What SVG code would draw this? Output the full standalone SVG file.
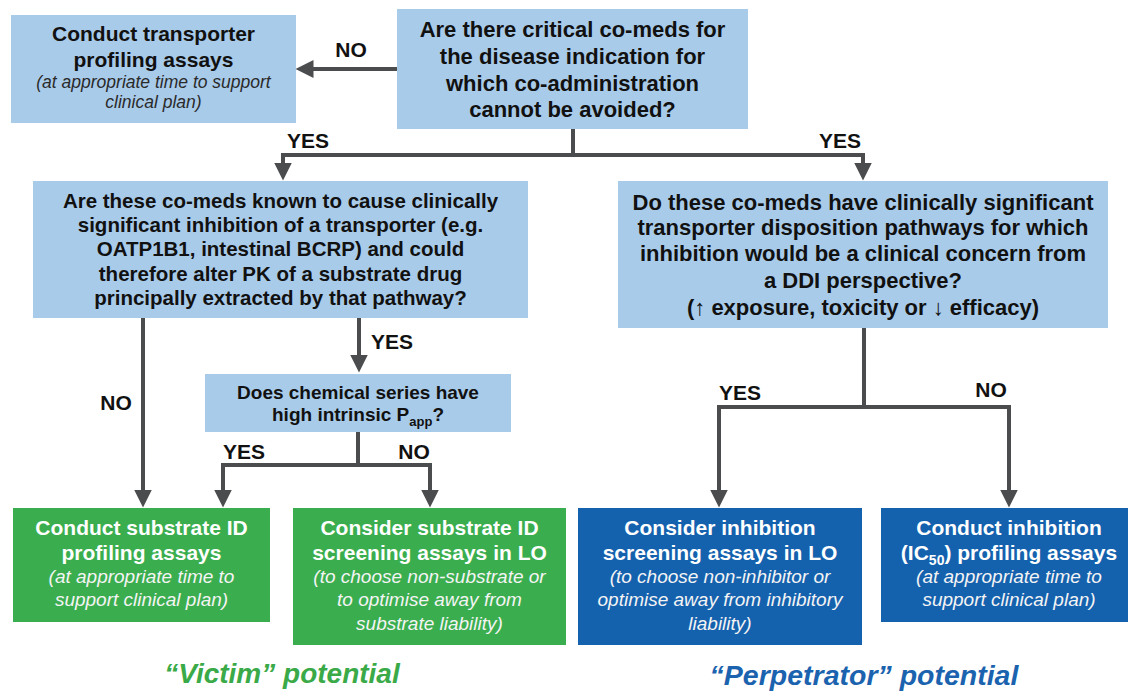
<svg xmlns="http://www.w3.org/2000/svg" width="1128" height="691" viewBox="0 0 1128 691">
<style>
text{font-family:"Liberation Sans",Arial,sans-serif;text-anchor:middle}
.q{fill:#a9cbea}
.g{fill:#3aae4e}
.b{fill:#1461ae}
.t{font-weight:bold;fill:#111}
.w{font-weight:bold;fill:#fff}
.wi{font-style:italic;fill:#f4f4f4}
.di{font-style:italic;fill:#2a2a2a}
.lb{font-weight:bold;font-size:21px;fill:#111}
.c{fill:none;stroke:#4b4c4e;stroke-width:4;stroke-linejoin:miter}
</style>
<defs>
<marker id="ah" markerUnits="userSpaceOnUse" markerWidth="18" markerHeight="18" viewBox="0 0 18 18" refX="0.5" refY="9" orient="auto-start-reverse">
<path d="M0,0 L18,9 L0,18 z" fill="#4b4c4e"/>
</marker>
</defs>

<g id="connectors">
<path class="c" d="M397,69 H313" marker-end="url(#ah)"/>
<path class="c" d="M573,129 V155"/>
<path class="c" d="M283,163 V155 H863 V163" marker-start="url(#ah)" marker-end="url(#ah)"/>
<path class="c" d="M143,318 V490" marker-end="url(#ah)"/>
<path class="c" d="M359,318 V355" marker-end="url(#ah)"/>
<path class="c" d="M358,432 V465"/>
<path class="c" d="M223,490 V465 H430 V490" marker-start="url(#ah)" marker-end="url(#ah)"/>
<path class="c" d="M864,328 V407"/>
<path class="c" d="M719,490 V407 H1009 V490" marker-start="url(#ah)" marker-end="url(#ah)"/>
<text class="lb" x="351" y="57">NO</text>
<text class="lb" x="308" y="148">YES</text>
<text class="lb" x="840" y="148">YES</text>
<text class="lb" x="116" y="410">NO</text>
<text class="lb" x="392" y="349">YES</text>
<text class="lb" x="244" y="459">YES</text>
<text class="lb" x="414" y="459">NO</text>
<text class="lb" x="740" y="400">YES</text>
<text class="lb" x="991" y="397">NO</text>
</g>

<g id="transporter-profiling">
<rect class="q" x="11" y="15" width="285" height="108"/>
<text class="t" font-size="21" x="153.5" y="41">Conduct transporter</text>
<text class="t" font-size="21" x="153.5" y="67">profiling assays</text>
<text class="di" font-size="17.5" x="153.5" y="88">(at appropriate time to support</text>
<text class="di" font-size="17.5" x="153.5" y="108">clinical plan)</text>
</g>

<g id="critical-comeds">
<rect class="q" x="397" y="9" width="351" height="120"/>
<text class="t" font-size="22" x="572.5" y="37">Are there critical co-meds for</text>
<text class="t" font-size="22" x="572.5" y="64">the disease indication for</text>
<text class="t" font-size="22" x="572.5" y="91">which co-administration</text>
<text class="t" font-size="22" x="572.5" y="117">cannot be avoided?</text>
</g>

<g id="inhibition-known">
<rect class="q" x="33" y="181" width="495" height="137"/>
<text class="t" font-size="20.5" x="280.5" y="208">Are these co-meds known to cause clinically</text>
<text class="t" font-size="20.5" x="280.5" y="232">significant inhibition of a transporter (e.g.</text>
<text class="t" font-size="20.5" x="280.5" y="256">OATP1B1, intestinal BCRP) and could</text>
<text class="t" font-size="20.5" x="280.5" y="281">therefore alter PK of a substrate drug</text>
<text class="t" font-size="20.5" x="280.5" y="305">principally extracted by that pathway?</text>
</g>

<g id="disposition-pathways">
<rect class="q" x="618" y="181" width="490" height="147"/>
<text class="t" font-size="22" x="863" y="210">Do these co-meds have clinically significant</text>
<text class="t" font-size="22" x="863" y="235">transporter disposition pathways for which</text>
<text class="t" font-size="22" x="863" y="261">inhibition would be a clinical concern from</text>
<text class="t" font-size="22" x="863" y="288">a DDI perspective?</text>
<text class="t" font-size="22" x="863" y="315">(↑ exposure, toxicity or ↓ efficacy)</text>
</g>

<g id="papp">
<rect class="q" x="205" y="374" width="306" height="58"/>
<text class="t" font-size="19" x="358" y="399">Does chemical series have</text>
<text class="t" font-size="19" x="358" y="421">high intrinsic P<tspan font-size="13" dy="5">app</tspan><tspan dy="-5">?</tspan></text>
</g>

<g id="substrate-profiling">
<rect class="g" x="13" y="508" width="257" height="114"/>
<text class="w" font-size="21" x="141.5" y="535">Conduct substrate ID</text>
<text class="w" font-size="21" x="141.5" y="560">profiling assays</text>
<text class="wi" font-size="19" x="141.5" y="583">(at appropriate time to</text>
<text class="wi" font-size="19" x="141.5" y="606">support clinical plan)</text>
</g>

<g id="substrate-screening">
<rect class="g" x="293" y="508" width="273" height="137"/>
<text class="w" font-size="21" x="429.5" y="535">Consider substrate ID</text>
<text class="w" font-size="21" x="429.5" y="560">screening assays in LO</text>
<text class="wi" font-size="19" x="429.5" y="583">(to choose non-substrate or</text>
<text class="wi" font-size="19" x="429.5" y="606">to optimise away from</text>
<text class="wi" font-size="19" x="429.5" y="630">substrate liability)</text>
</g>

<g id="inhibition-screening">
<rect class="b" x="578" y="508" width="284" height="137"/>
<text class="w" font-size="21" x="720" y="535">Consider inhibition</text>
<text class="w" font-size="21" x="720" y="560">screening assays in LO</text>
<text class="wi" font-size="19" x="720" y="583">(to choose non-inhibitor or</text>
<text class="wi" font-size="19" x="720" y="606">optimise away from inhibitory</text>
<text class="wi" font-size="19" x="720" y="630">liability)</text>
</g>

<g id="inhibition-profiling">
<rect class="b" x="881" y="508" width="247" height="114"/>
<text class="w" font-size="21" x="1009" y="535">Conduct inhibition</text>
<text class="w" font-size="21" x="1009" y="560">(IC<tspan font-size="14" dy="5">50</tspan><tspan dy="-5">) profiling assays</tspan></text>
<text class="wi" font-size="19" x="1009" y="583">(at appropriate time to</text>
<text class="wi" font-size="19" x="1009" y="606">support clinical plan)</text>
</g>

<g id="captions">
<text x="282" y="683" font-size="28" font-weight="bold" font-style="italic" fill="#3aaa48">“Victim” potential</text>
<text x="864" y="685" font-size="28.5" font-weight="bold" font-style="italic" fill="#1b63ae">“Perpetrator” potential</text>
</g>
</svg>
